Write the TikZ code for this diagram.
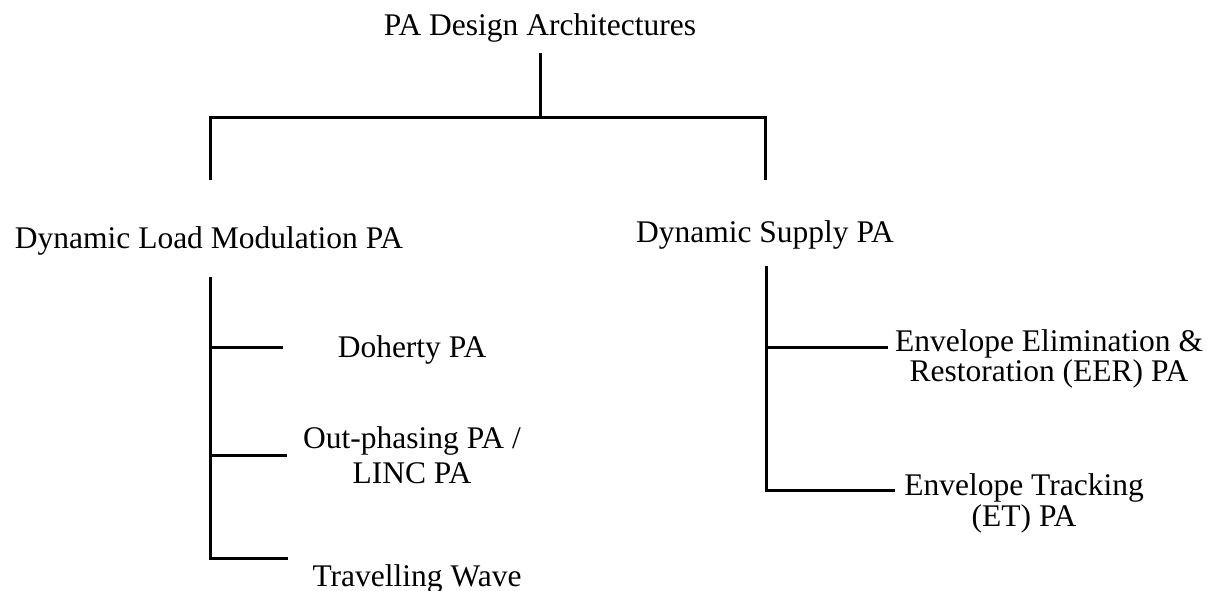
\documentclass[tikz,border=0pt]{standalone}
\usepackage{fontspec}
\setmainfont{Liberation Serif}
\begin{document}
\begin{tikzpicture}[x=1pt,y=-1pt,
  lbl/.style={font=\fontsize{31.5}{30}\selectfont, inner sep=0pt, anchor=base, align=center},
  wire/.style={line width=3pt, line join=miter}]
\useasboundingbox (0,0) rectangle (1225,590);

% labels (multi-line labels are placed by the baseline of their last line)
\node[lbl] (root) at (540,35) {PA Design Architectures};
\node[lbl] (dlm) at (209,248) {Dynamic Load Modulation PA};
\node[lbl] (dsp) at (765,242) {Dynamic Supply PA};
\node[lbl] (doh) at (412,357) {Doherty PA};
\node[lbl, font=\fontsize{31.5}{34.5}\selectfont] (out) at (412,483) {Out-phasing PA /\\LINC PA};
\node[lbl] (tw) at (417,586) {Travelling Wave};
\node[lbl] (eer) at (1049,381) {Envelope Elimination \&\\Restoration (EER) PA};
\node[lbl, font=\fontsize{31.5}{31}\selectfont] (et) at (1024,526) {Envelope Tracking\\(ET) PA};

% junction points of the tree
\coordinate (stemtop) at (540,53);
\coordinate (bus) at (540,117);
\coordinate (busL) at (210,117);
\coordinate (busR) at (765,117);
\coordinate (dropL) at (210,180);
\coordinate (dropR) at (765,180);

\coordinate (lTop) at (210,277);
\coordinate (lDoh) at (210,347);
\coordinate (lOut) at (210,455);
\coordinate (lTw) at (210,558);
\coordinate (eDoh) at (283,347);
\coordinate (eOut) at (287,455);
\coordinate (eTw) at (288,558);

\coordinate (rTop) at (766,266);
\coordinate (rEer) at (766,347);
\coordinate (rEt) at (766,490);
\coordinate (eEer) at (888,347);
\coordinate (eEt) at (895,490);

% connectors
\draw[wire] (stemtop) -- (bus);
\draw[wire] (dropL) -- (busL) -- (busR) -- (dropR);

\draw[wire] (lTop) -- (lTw) -- (eTw);
\draw[wire] (lDoh) -- (eDoh);
\draw[wire] (lOut) -- (eOut);

\draw[wire] (rTop) -- (rEt) -- (eEt);
\draw[wire] (rEer) -- (eEer);
\end{tikzpicture}
\end{document}
